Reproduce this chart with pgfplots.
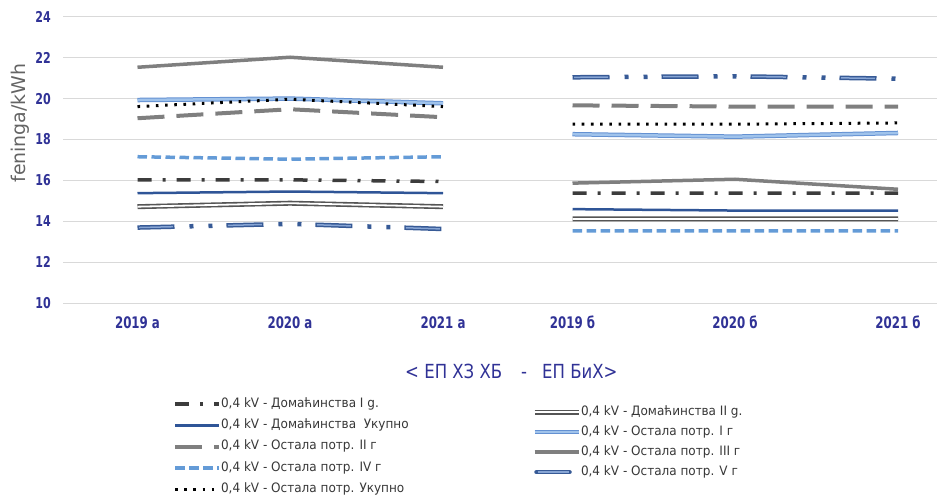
\documentclass[border=0pt]{standalone}
\usepackage{pgfplots}
\pgfplotsset{compat=1.18}
\usepackage{pgfplotstable}
\usepackage{fontspec}
\setmainfont{DejaVu Sans}
\newfontfamily\tickfont[FakeStretch=0.74]{DejaVu Sans}
\newfontfamily\legfont[FakeStretch=0.93]{DejaVu Sans}
\newfontfamily\titfont[FakeStretch=0.85]{DejaVu Sans}

\definecolor{tickblue}{RGB}{48,50,150}
\definecolor{labgray}{RGB}{100,100,100}
\definecolor{leggray}{RGB}{55,55,55}
\definecolor{cdd}{RGB}{60,60,60}
\definecolor{darkblue}{RGB}{47,85,151}
\definecolor{midgray}{RGB}{127,127,127}
\definecolor{lblue}{RGB}{100,155,215}
\definecolor{lblueedge}{RGB}{100,145,210}
\definecolor{lbluefill}{RGB}{160,195,235}
\definecolor{dgray}{RGB}{85,85,85}
\definecolor{vblue}{RGB}{55,90,150}
\definecolor{vbluec}{RGB}{135,165,212}
\definecolor{gridc}{RGB}{217,217,217}

% x = horizontal position of the category (2019a..2021a, gap, 2019b..2021b)
\pgfplotstableread{
x      d1    d2    du    o1    o2    o3    o4    o5    ou
137.5  16.03 14.72 15.38 19.93 19.04 21.53 17.16 13.70 19.61
290    16.03 14.89 15.46 20.00 19.48 22.02 17.04 13.88 19.97
443    15.95 14.72 15.38 19.77 19.09 21.53 17.16 13.63 19.61
500    nan   nan   nan   nan   nan   nan   nan   nan   nan
572.5  15.38 14.12 14.60 18.26 19.67 15.87 13.54 21.04 18.75
735    15.38 14.12 14.53 18.14 19.61 16.06 13.54 21.09 18.75
898    15.38 14.12 14.53 18.32 19.61 15.57 13.54 20.97 18.81
}\data

\tikzset{
 sD1/.style={cdd, line width=3.5bp, dash pattern=on 14bp off 11bp on 3bp off 11bp},
 sD2/.style={draw=dgray, line width=1.6bp, double=white, double distance=1.8bp},
 sDU/.style={darkblue, line width=2.5bp},
 sO1/.style={draw=lblueedge, line width=1bp, double=lbluefill, double distance=2.5bp},
 sO2/.style={midgray, line width=4bp, dash pattern=on 27bp off 12bp},
 sO3/.style={midgray, line width=3.5bp},
 sO4/.style={lblue, line width=3.5bp, dash pattern=on 9.5bp off 4.5bp},
 sO5/.style={vblue, line width=4.5bp, dash pattern=on 37bp off 15bp on 4bp off 15bp on 4bp off 14bp},
 sO5c/.style={vbluec, line width=1.5bp, dash pattern=on 0bp off 1.5bp on 34bp off 53.5bp},
 sOU/.style={black, line width=3bp, dash pattern=on 2.6bp off 6.6bp},
}

\pgfplotsset{
 common/.style={
  at={(63bp,-303.3bp)}, anchor=south west,
  scale only axis, width=874bp, height=286.6bp,
  xmin=63, xmax=937, ymin=10, ymax=24,
  legend cell align=left,
  legend image code/.code={\draw[##1] (0bp,0bp) -- (44bp,0bp);},
 },
 legcommon/.style={
  draw=none, fill=none, inner sep=0pt, outer sep=0pt, anchor=north west,
  font=\legfont\fontsize{13}{13}\selectfont, text=leggray,
  nodes={inner sep=0pt, text height=9.5bp, text depth=3bp},
  column sep=0bp,
 },
}

\begin{document}
\begin{tikzpicture}
\useasboundingbox (0bp,0bp) rectangle (937bp,-499bp);
\begin{axis}[
 common,
 ytick={10,12,...,24},
 xtick={137.5,290,443,572.5,735,898},
 xticklabels={2019 а,2020 а,2021 а,2019 б,2020 б,2021 б},
 axis line style={draw=none}, major tick length=0pt, tick style={draw=none},
 ymajorgrids, grid style={gridc, line width=1bp},
 /pgf/number format/assume math mode=true,
 yticklabel style={font=\tickfont\bfseries\fontsize{15}{15}\selectfont, text=tickblue, anchor=east, inner sep=0pt, xshift=-12bp},
 xticklabel style={font=\tickfont\bfseries\fontsize{16}{16}\selectfont, text=tickblue, anchor=north, inner sep=0pt, yshift=-12.7bp},
 unbounded coords=jump,
 clip=false,
 ylabel={feninga/kWh},
 ylabel style={at={(axis description cs:-0.049,0.629)}, anchor=center, font=\fontsize{19}{19}\selectfont, text=labgray},
 xlabel={{<}\ ЕП\ ХЗ\ ХБ\hspace{19bp}-\hspace{15bp}ЕП\ БиХ{>}},
 xlabel style={at={(axis description cs:0.513,-0.236)}, anchor=center, font=\titfont\fontsize{19.5}{19.5}\selectfont, text=tickblue},
 legend style={legcommon, at={(axis description cs:0.1259,-0.330)}, row sep=8.8bp},
]
\addplot[sD1] table[x=x,y=d1]{\data};
\addlegendentry{0{,}4 kV - Домаћинства I g.}
\addplot[sD2, forget plot] table[x=x,y=d2]{\data};
\addplot[sDU] table[x=x,y=du]{\data};
\addlegendentry{0{,}4 kV - Домаћинства\ \ Укупно}
\addplot[sO1, forget plot] table[x=x,y=o1]{\data};
\addplot[sO2] table[x=x,y=o2]{\data};
\addlegendentry{0{,}4 kV - Остала потр. II г}
\addplot[sO3, forget plot] table[x=x,y=o3]{\data};
\addplot[sO4] table[x=x,y=o4]{\data};
\addlegendentry{0{,}4 kV - Остала потр. IV г}
\addplot[sO5, forget plot] table[x=x,y=o5]{\data};
\addplot[sO5c, forget plot] table[x=x,y=o5]{\data};
\addplot[sOU] table[x=x,y=ou]{\data};
\addlegendentry{0{,}4 kV - Остала потр. Укупно}
\end{axis}
\begin{axis}[
 common, hide axis,
 legend style={legcommon, at={(axis description cs:0.5366,-0.358)}, row sep=7.5bp},
]
\addlegendimage{sD2}
\addlegendentry{0{,}4 kV - Домаћинства II g.}
\addlegendimage{sO1}
\addlegendentry{0{,}4 kV - Остала потр. I г}
\addlegendimage{sO3}
\addlegendentry{0{,}4 kV - Остала потр. III г}
\addlegendimage{legend image code/.code={\draw[vblue,line width=4.5bp,line cap=round] (2bp,0bp) -- (35bp,0bp); \draw[vbluec,line width=1.5bp] (3bp,0bp) -- (34bp,0bp);}}
\addlegendentry{0{,}4 kV - Остала потр. V г}
\end{axis}
\end{tikzpicture}
\end{document}
